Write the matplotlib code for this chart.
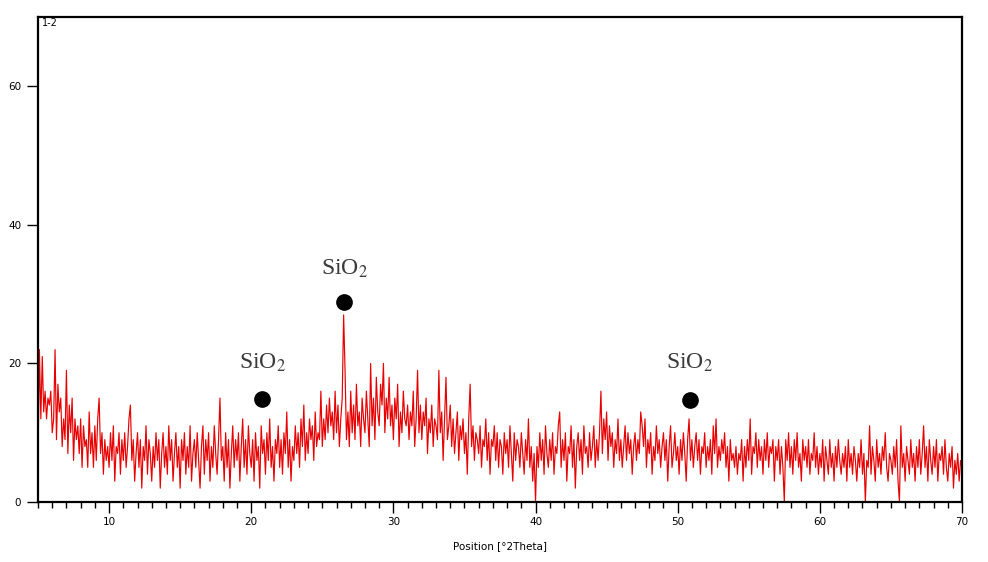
import numpy as np
import matplotlib
matplotlib.use("Agg")
import matplotlib.pyplot as plt
from matplotlib.ticker import MultipleLocator

plt.rcParams['mathtext.fontset'] = 'stix'

# ---- data, 2theta from 5.0 to 70.0 in 0.1 steps ----
x_start = 5.0
x_step = 0.1
counts = [
    6, 22, 12, 21, 13, 16, 12, 15, 14, 16,     # 5
    10, 12, 22, 9, 17, 13, 15, 8, 12, 9,       # 6
    19, 7, 14, 10, 15, 6, 12, 9, 11, 7,        # 7
    12, 5, 11, 8, 9, 5, 13, 7, 10, 5,          # 8
    11, 6, 12, 15, 7, 10, 4, 9, 6, 8,          # 9
    5, 10, 6, 11, 3, 8, 7, 10, 4, 9,           # 10
    6, 10, 5, 8, 12, 14, 6, 9, 3, 7,           # 11
    10, 5, 9, 2, 8, 6, 11, 4, 9, 7,            # 12
    3, 8, 5, 10, 6, 9, 2, 7, 10, 5,            # 13
    8, 4, 11, 6, 9, 3, 7, 10, 5, 8,            # 14
    2, 9, 6, 10, 4, 8, 5, 11, 3, 7,            # 15
    9, 5, 10, 6, 2, 8, 11, 4, 9, 6,            # 16
    10, 3, 8, 5, 11, 7, 4, 9, 15, 6,           # 17
    8, 3, 10, 5, 9, 2, 7, 11, 5, 9,            # 18
    6, 10, 3, 8, 12, 5, 9, 4, 11, 7,           # 19
    5, 9, 3, 10, 6, 8, 2, 11, 7, 9,            # 20
    4, 10, 6, 12, 5, 8, 3, 9, 7, 11,           # 21
    5, 9, 4, 10, 7, 13, 5, 9, 3, 8,            # 22
    6, 11, 7, 10, 5, 12, 8, 14, 6, 10,         # 23
    7, 12, 9, 11, 6, 13, 8, 10, 9, 16,         # 24
    8, 12, 9, 14, 10, 15, 11, 13, 9, 16,       # 25
    10, 14, 8, 12, 15, 27, 19, 9, 13, 8,       # 26
    16, 10, 14, 9, 17, 11, 13, 8, 15, 12,      # 27
    10, 16, 12, 8, 20, 11, 15, 9, 18, 13,      # 28
    11, 17, 14, 20, 10, 15, 12, 18, 11, 14,    # 29
    9, 15, 12, 17, 8, 13, 10, 16, 12, 11,      # 30
    14, 9, 13, 11, 16, 8, 12, 19, 10, 14,      # 31
    9, 13, 11, 15, 7, 12, 10, 14, 8, 12,       # 32
    11, 9, 19, 10, 13, 6, 12, 18, 9, 11,       # 33
    14, 8, 12, 7, 10, 13, 6, 11, 9, 12,        # 34
    7, 10, 4, 12, 17, 8, 11, 6, 10, 9,         # 35
    7, 11, 5, 9, 8, 12, 6, 10, 4, 9,           # 36
    8, 11, 6, 10, 5, 9, 8, 4, 10, 7,           # 37
    9, 5, 11, 7, 3, 10, 6, 9, 8, 5,            # 38
    10, 7, 4, 9, 6, 12, 5, 8, 3, 7,            # 39
    0, 8, 5, 10, 6, 9, 4, 11, 7, 5,            # 40
    9, 6, 10, 4, 8, 7, 11, 13, 5, 9,           # 41
    6, 10, 3, 8, 7, 11, 5, 9, 2, 8,            # 42
    10, 6, 9, 4, 11, 7, 8, 5, 10, 6,           # 43
    8, 11, 5, 9, 6, 10, 16, 7, 12, 9,          # 44
    13, 6, 11, 8, 10, 5, 9, 7, 12, 6,          # 45
    9, 5, 8, 11, 6, 10, 7, 9, 4, 8,            # 46
    10, 6, 9, 7, 13, 11, 8, 12, 5, 9,          # 47
    7, 10, 4, 8, 6, 11, 7, 9, 5, 8,            # 48
    10, 6, 9, 3, 8, 11, 5, 7, 10, 6,           # 49
    8, 4, 9, 6, 10, 7, 3, 9, 12, 6,            # 50
    9, 5, 8, 10, 6, 9, 4, 8, 7, 10,            # 51
    5, 8, 6, 9, 4, 11, 7, 12, 5, 8,            # 52
    6, 9, 7, 10, 5, 8, 3, 9, 6, 7,             # 53
    5, 8, 4, 7, 6, 9, 3, 8, 5, 9,              # 54
    6, 12, 4, 8, 7, 10, 5, 9, 6, 8,            # 55
    4, 9, 6, 10, 5, 8, 7, 9, 3, 8,             # 56
    6, 9, 4, 8, 5, 0, 9, 6, 10, 5,             # 57
    8, 4, 9, 6, 10, 5, 7, 3, 9, 6,             # 58
    8, 5, 9, 4, 7, 6, 10, 5, 8, 4,             # 59
    7, 5, 9, 3, 8, 6, 4, 9, 5, 7,              # 60
    3, 8, 5, 9, 6, 4, 7, 5, 8, 3,              # 61
    9, 5, 7, 4, 8, 6, 3, 7, 5, 9,              # 62
    4, 7, 0, 6, 5, 11, 4, 8, 6, 3,             # 63
    9, 5, 7, 4, 8, 6, 10, 5, 3, 7,             # 64
    6, 4, 8, 5, 9, 3, 0, 11, 5, 7,             # 65
    3, 8, 6, 4, 9, 5, 7, 3, 8, 5,              # 66
    9, 4, 7, 11, 5, 8, 3, 9, 6, 4,             # 67
    8, 5, 9, 3, 7, 6, 8, 4, 9, 5,              # 68
    3, 7, 5, 8, 2, 6, 4, 7, 3, 6,              # 69
    5,                                         # 70
]
two_theta = x_start + x_step * np.arange(len(counts))

marker_x = [20.77, 26.55, 50.85]
marker_y = [14.8, 28.8, 14.7]
label_text = ["SiO$_2$", "SiO$_2$", "SiO$_2$"]
label_y = [20.1, 33.7, 20.1]

sample_name = "1-2"
x_label = "Position [°2Theta]"
x_major = [10, 20, 30, 40, 50, 60, 70]
y_major = [0, 20, 40, 60]

# ---- figure ----
fig = plt.figure(figsize=(9.88, 5.62), dpi=100)
ax = fig.add_axes([38/988, (562-502)/562, (962-38)/988, (502-17)/562])

ax.plot(two_theta, counts, color='#e80000', linewidth=0.85)
ax.plot(marker_x, marker_y, 'o', color='black', markersize=11, linestyle='none')
for mx, ly, t in zip(marker_x, label_y, label_text):
    ax.text(mx, ly, t, ha='center', va='center', fontsize=17,
            family='Liberation Serif', color='#3a3a3a')

ax.set_xlim(5, 70)
ax.set_ylim(0, 70)
ax.set_xticks(x_major)
ax.xaxis.set_minor_locator(MultipleLocator(1))
ax.set_yticks(y_major)
ax.tick_params(axis='both', which='major', direction='out', length=8, width=1,
               labelsize=7.5, colors='black')
ax.tick_params(axis='x', which='minor', direction='out', length=4, width=1)
ax.tick_params(axis='x', which='major', pad=3)
ax.tick_params(axis='y', which='major', pad=4)
for s in ax.spines.values():
    s.set_linewidth(1.6)

ax.set_xlabel(x_label, fontsize=7.5, labelpad=10)
ax.text(0.004, 0.997, sample_name, transform=ax.transAxes, ha='left', va='top',
        fontsize=7)

fig.savefig("out.png", dpi=100)
